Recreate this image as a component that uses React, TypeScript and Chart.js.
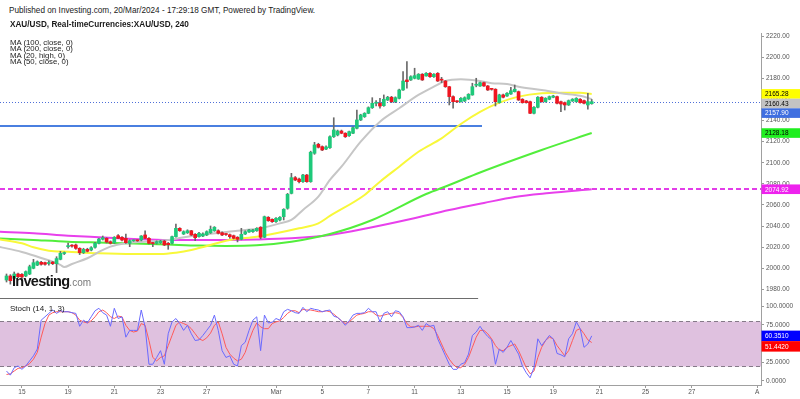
import React, { useEffect, useRef } from 'react';
import { Chart, registerables } from 'chart.js';

Chart.register(...registerables);

// ---------------- data (4h bars, index 0 = first visible candle) ----------------
const candleOpen = [
  1988.9, 1992.7, 1990.5, 1994.6, 1994.3, 1992.7, 1994.6, 2000.0, 2003.0, 2005.7,
  2005.4, 2004.5, 2005.9, 2004.4, 2008.5, 2014.0, 2020.5, 2021.5, 2022.1, 2018.9,
  2014.8, 2018.0, 2017.3, 2019.9, 2023.7, 2027.5, 2028.4, 2025.2, 2024.3, 2030.9,
  2029.4, 2028.4, 2023.7, 2026.0, 2026.2, 2026.8, 2031.6, 2028.4, 2023.9, 2023.7,
  2024.3, 2025.8, 2023.7, 2023.7, 2030.0, 2037.9, 2032.5, 2033.7, 2035.6, 2032.2,
  2030.0, 2030.6, 2031.6, 2033.7, 2035.6, 2035.6, 2033.7, 2032.4, 2031.8, 2030.9,
  2029.4, 2027.5, 2032.5, 2034.4, 2034.7, 2035.6, 2038.9, 2029.4, 2048.3, 2046.4,
  2044.2, 2045.8, 2048.9, 2056.9, 2071.0, 2085.9, 2084.6, 2082.1, 2088.4, 2082.1,
  2109.0, 2117.5, 2115.3, 2113.0, 2114.3, 2124.7, 2126.4, 2130.1, 2128.0, 2125.7,
  2128.0, 2132.7, 2140.6, 2143.7, 2146.9, 2152.2, 2156.4, 2156.4, 2154.1, 2159.5,
  2162.1, 2157.9, 2161.1, 2169.0, 2178.5, 2178.5, 2180.1, 2179.4, 2183.9, 2182.3,
  2184.8, 2181.6, 2184.8, 2178.6, 2177.5, 2172.1, 2162.7, 2158.0, 2157.9, 2158.6,
  2160.5, 2164.3, 2173.5, 2172.8, 2175.9, 2172.8, 2169.8, 2169.7, 2157.0, 2164.3,
  2163.3, 2165.2, 2167.4, 2167.4, 2160.2, 2158.6, 2157.9, 2146.9, 2152.6, 2162.1,
  2157.9, 2160.2, 2162.1, 2162.7, 2157.9, 2157.0, 2154.8, 2158.6, 2157.9, 2160.2,
  2158.9, 2154.8, 2156.0,
];
const candleHigh = [
  1994.6, 1994.0, 1996.5, 1995.5, 1995.0, 1997.5, 2003.0, 2008.5, 2007.0, 2006.5,
  2006.0, 2007.0, 2006.5, 2011.0, 2016.0, 2015.5, 2024.0, 2022.5, 2023.0, 2019.5,
  2019.0, 2019.0, 2020.5, 2024.5, 2028.5, 2030.6, 2029.0, 2026.0, 2030.0, 2032.0,
  2030.0, 2032.5, 2027.0, 2027.0, 2027.0, 2031.0, 2035.4, 2029.0, 2024.5, 2026.0,
  2026.5, 2026.5, 2024.5, 2030.5, 2042.0, 2038.5, 2035.5, 2036.5, 2036.0, 2032.8,
  2034.0, 2033.5, 2035.5, 2040.1, 2039.5, 2036.5, 2034.5, 2033.0, 2032.5, 2031.5,
  2030.0, 2037.9, 2035.5, 2037.0, 2037.0, 2038.5, 2039.5, 2049.5, 2049.0, 2047.0,
  2048.0, 2049.0, 2056.5, 2071.0, 2090.0, 2087.0, 2085.5, 2089.0, 2089.0, 2111.0,
  2119.4, 2118.5, 2116.0, 2116.0, 2125.5, 2142.7, 2131.0, 2131.0, 2128.5, 2130.0,
  2134.0, 2150.0, 2146.0, 2147.5, 2153.0, 2161.7, 2159.0, 2161.0, 2164.3, 2163.0,
  2163.0, 2162.5, 2169.8, 2186.4, 2195.8, 2182.5, 2189.6, 2184.5, 2184.5, 2185.5,
  2185.5, 2184.5, 2185.5, 2181.0, 2178.0, 2172.5, 2163.5, 2159.0, 2161.8, 2162.5,
  2165.5, 2175.4, 2180.1, 2176.5, 2176.5, 2173.3, 2170.5, 2170.2, 2165.0, 2165.0,
  2166.5, 2171.6, 2173.7, 2168.0, 2160.8, 2159.2, 2158.5, 2153.2, 2162.7, 2162.7,
  2161.7, 2163.3, 2164.0, 2163.3, 2158.5, 2157.6, 2159.5, 2160.8, 2161.7, 2160.8,
  2159.5, 2165.9, 2160.0,
];
const candleLow = [
  1987.0, 1985.0, 1988.5, 1991.0, 1990.5, 1992.0, 1994.0, 1999.5, 2002.5, 2003.0,
  2003.0, 2003.0, 2003.5, 1995.9, 2008.0, 2013.0, 2019.0, 2020.0, 2018.0, 2013.0,
  2014.0, 2015.5, 2016.5, 2019.0, 2023.0, 2026.8, 2024.0, 2023.0, 2023.5, 2028.0,
  2026.0, 2023.5, 2020.5, 2025.5, 2025.5, 2026.0, 2028.0, 2023.0, 2020.5, 2023.0,
  2023.5, 2021.5, 2018.0, 2023.0, 2029.5, 2035.0, 2032.0, 2033.0, 2031.0, 2026.2,
  2029.5, 2030.0, 2031.0, 2033.0, 2035.0, 2032.5, 2031.0, 2031.2, 2028.4, 2027.8,
  2025.0, 2027.0, 2032.0, 2034.0, 2034.0, 2035.0, 2028.0, 2029.0, 2044.5, 2043.5,
  2043.5, 2045.0, 2045.8, 2056.0, 2070.5, 2083.0, 2081.0, 2081.5, 2081.5, 2081.5,
  2108.0, 2114.0, 2111.5, 2112.5, 2113.5, 2124.0, 2125.5, 2127.5, 2124.0, 2125.0,
  2127.5, 2132.0, 2140.0, 2143.0, 2146.5, 2151.5, 2154.0, 2151.7, 2153.5, 2159.0,
  2157.0, 2157.0, 2160.5, 2168.5, 2170.6, 2178.0, 2179.5, 2179.0, 2178.0, 2182.0,
  2181.0, 2181.0, 2177.0, 2176.0, 2171.5, 2154.8, 2151.7, 2157.0, 2157.5, 2158.0,
  2160.0, 2164.0, 2172.0, 2172.3, 2172.3, 2168.5, 2168.8, 2153.8, 2156.5, 2161.5,
  2163.0, 2164.8, 2167.0, 2159.0, 2156.5, 2156.5, 2146.5, 2146.3, 2152.0, 2157.4,
  2157.4, 2159.7, 2161.6, 2155.9, 2148.4, 2150.0, 2154.3, 2158.1, 2157.4, 2156.5,
  2155.9, 2150.7, 2155.5,
];
const candleClose = [
  1992.7, 1988.3, 1994.6, 1992.0, 1991.8, 1996.8, 2001.5, 2005.3, 2006.2, 2003.8,
  2003.8, 2005.5, 2004.4, 2009.2, 2014.2, 2014.8, 2021.5, 2021.0, 2018.9, 2014.8,
  2018.0, 2016.1, 2019.5, 2023.7, 2027.8, 2029.0, 2024.9, 2023.7, 2029.4, 2028.4,
  2026.8, 2024.3, 2026.2, 2026.4, 2026.0, 2030.6, 2028.4, 2023.7, 2023.5, 2025.2,
  2025.8, 2022.1, 2022.4, 2030.0, 2037.9, 2035.6, 2034.7, 2035.6, 2031.6, 2029.0,
  2033.2, 2032.5, 2034.7, 2037.0, 2038.9, 2033.2, 2031.6, 2032.0, 2030.0, 2028.4,
  2027.5, 2032.2, 2034.7, 2036.3, 2036.3, 2037.9, 2029.4, 2048.9, 2045.1, 2044.2,
  2047.4, 2048.3, 2055.9, 2070.1, 2085.9, 2083.7, 2082.1, 2088.4, 2082.1, 2110.0,
  2116.9, 2114.7, 2112.1, 2115.0, 2124.7, 2131.1, 2130.1, 2128.0, 2124.7, 2129.5,
  2133.3, 2140.6, 2145.3, 2146.9, 2152.2, 2156.4, 2156.8, 2153.8, 2160.2, 2162.1,
  2157.9, 2161.7, 2169.0, 2177.5, 2176.9, 2181.6, 2182.6, 2183.9, 2178.5, 2184.8,
  2181.6, 2183.9, 2177.5, 2178.3, 2172.1, 2162.7, 2157.9, 2157.8, 2161.1, 2161.7,
  2164.9, 2172.1, 2173.9, 2175.9, 2172.8, 2169.0, 2169.6, 2157.9, 2164.3, 2162.1,
  2165.9, 2168.3, 2169.7, 2159.5, 2157.0, 2157.0, 2146.9, 2152.6, 2162.1, 2157.9,
  2161.1, 2162.7, 2163.3, 2156.4, 2155.7, 2154.8, 2158.9, 2160.2, 2161.1, 2157.0,
  2156.4, 2157.9, 2157.9,
];

// moving averages, read at sampled bar indices
const maFastIdx = [-2, 4, 9, 14, 15, 17, 21, 24, 27, 31, 36, 42, 47, 50, 60, 66, 71, 74, 77, 81, 84, 87, 92, 97, 102, 107, 111, 114, 118, 123, 126, 130, 133, 139, 144, 149, 152];
const maFastVal = [2020.5, 2015.5, 2009.8, 2003.2, 2001.2, 2004.1, 2009.5, 2015.5, 2020.5, 2023.7, 2025.2, 2026.8, 2030.0, 2031.6, 2035.6, 2037.9, 2042.6, 2045.8, 2055.3, 2067.9, 2083.7, 2096.3, 2120.0, 2139.0, 2151.7, 2164.3, 2172.1, 2177.5, 2179.1, 2177.5, 2175.4, 2174.7, 2172.1, 2169.0, 2165.9, 2163.6, 2160.43];
const maYellowIdx = [-2, 4, 7, 11, 16, 24, 33, 40, 44, 48, 50, 58, 65, 70, 76, 81, 84, 93, 97, 102, 107, 113, 118, 123, 128, 133, 139, 144, 149, 152];
const maYellowVal = [2027.5, 2023.7, 2019.9, 2016.7, 2015.7, 2014.2, 2013.5, 2013.5, 2014.8, 2017.3, 2019.2, 2026.8, 2030.0, 2033.2, 2037.9, 2042.6, 2049.6, 2069.5, 2082.1, 2096.3, 2110.5, 2123.2, 2136.8, 2148.2, 2157.0, 2162.7, 2165.9, 2166.4, 2166.4, 2165.28];
const maGreenIdx = [-2, 7, 16, 24, 33, 42, 50, 57, 65, 74, 84, 95, 109, 115, 123, 139, 152];
const maGreenVal = [2028.4, 2026.8, 2025.2, 2024.4, 2023.6, 2022.5, 2021.5, 2021.2, 2021.8, 2025.2, 2032.5, 2045.8, 2070.4, 2078.9, 2090.8, 2112.1, 2128.18];
const maMagentaIdx = [-2, 7, 16, 24, 33, 42, 50, 65, 74, 84, 94, 105, 115, 124, 132, 141, 152];
const maMagentaVal = [2034.7, 2033.2, 2030.9, 2029.4, 2027.8, 2026.8, 2026.8, 2027.3, 2028.4, 2031.6, 2038.2, 2046.7, 2055.2, 2061.9, 2067.6, 2071.3, 2074.92];

// stochastic (14, 1, 3)
const stochK = [
  13.2, 7.7, 17.7, 20, 15.5, 20, 26.8, 33.6, 42.7, 81.4, 85.9, 90.5, 95, 90.5, 94, 92.7, 92.7, 91.4, 90.5, 73.2,
  81.4, 77.7, 85.9, 94, 97.3, 91.4, 88.2, 73.2, 97.3, 83.6, 85.9, 58.6, 67.7, 67.7, 67.7, 95, 72.3, 22.3, 22.3, 31.4,
  40.5, 22.3, 63.2, 79.1, 83.6, 76.8, 67.7, 74.5, 63.2, 54.1, 55, 60.9, 67.7, 74.5, 88.2, 67.7, 40.5, 31.4, 33.6, 22.3,
  20, 47.3, 51.8, 67.7, 81.4, 85.9, 40.5, 88.2, 77.7, 78.6, 83.6, 81.4, 92.7, 95.9, 94, 91.4, 90.5,
  98.6, 92.7, 97.3, 95.9, 95, 92.7, 94, 95, 86.8, 85, 80.5, 74.5, 80.5, 88.2, 90.5, 90.5, 91.4, 97.3, 92.7, 92.7,
  79.1, 90.5, 92.7, 85.9, 94, 92.7, 85.9, 71.4, 71.4, 72.3, 74.5, 67.7, 76.8, 73.2, 74.5, 56.4, 45, 33.6, 22.3, 15.5,
  15.5, 22.3, 24.5, 35.9, 60.9, 65.5, 73.2, 65.5, 59.5, 55, 22.3, 42.7, 38.2, 45, 54.1, 45, 35.9, 20, 10.9, 4.1,
  17.7, 56.4, 47.3, 54.1, 60.9, 56.4, 36.8, 35, 32.3, 56.4, 63.2, 79.1, 70, 45, 49.5, 60.351,
];
const stochD = [
  8.6, 9.5, 13.2, 16.8, 17.7, 20, 23.2, 29.1, 38.2, 58.6, 76.8, 88.2, 91.4, 92.7, 92.7, 92.7, 92.7, 91.4, 88.2, 81.4,
  79.1, 77.7, 80.5, 85.9, 92.7, 95, 91.4, 85.9, 83.6, 86.8, 85.9, 74.5, 67.7, 65.5, 66.8, 76.8, 74.5, 54.1, 31.4, 26.8,
  31.4, 33.6, 47.3, 60.9, 74.5, 79.1, 76.8, 74.5, 70, 63.2, 56.4, 54.1, 57.7, 64.1, 74.5, 79.1, 63.2, 45, 35.9, 30.5,
  26.8, 29.1, 38.2, 54.1, 67.7, 77.7, 72.3, 70, 70, 76.8, 79.1, 80.5, 85, 90.5, 94, 94, 91.4,
  95.9, 95, 95, 94, 92.7, 92.7, 94, 92.7, 89.5, 85, 80.5, 76.8, 79.1, 83.6, 88.2, 89.5, 90.5, 92.7, 92.7, 88.2,
  86.8, 88.2, 89.5, 90.5, 91.4, 90.5, 85, 76.8, 72.3, 72.3, 73.2, 73.2, 73.2, 73.2, 70, 60.9, 49.5, 38.2, 29.1, 22.3,
  17.7, 17.7, 22.3, 31.4, 45, 58.6, 67.7, 67.7, 63.2, 56.4, 47.3, 41.4, 40.5, 45, 47.3, 49.5, 40.5, 29.1, 17.7, 9.5,
  13.2, 31.4, 45, 54.1, 58.6, 56.4, 47.3, 40.5, 33.6, 40.5, 54.1, 67.7, 70, 63.2, 55, 51.442,
];

// axes
const priceTicks = [1980, 2000, 2020, 2040, 2060, 2080, 2100, 2120, 2140, 2160, 2180, 2200, 2220];
const stochTicks = [0, 25, 75, 100];
const dateTickIdx = [4, 16, 28, 40, 52, 70, 82, 94, 106, 118, 130, 142, 154, 166, 178, 195];
const dateTickLabels = ['15', '19', '21', '23', '27', 'Mar', '5', '7', '11', '13', '15', '19', '21', '25', '27', 'A'];
const xRange = [-1.69, 195.97];
const priceRange = [1971.85, 2223.0];
const stochRange = [-5.5, 111.1];

// drawn levels
const supportLevel = 2134.9;
const supportEndIdx = 123.5;
const dashedLevel = 2074.92;
const lastPrice = 2157.9;
const stochBand = [20, 80];
const separatorEndIdx = 122.5;

// right-axis value tags
const priceTags = [
  { value: 2165.28, bg: '#ffff00', fg: '#000000' },
  { value: 2160.43, bg: '#c3c3c3', fg: '#000000' },
  { value: 2157.9, bg: '#3f6fe0', fg: '#ffffff' },
  { value: 2128.18, bg: '#1fee1f', fg: '#000000' },
  { value: 2074.92, bg: '#ee22ee', fg: '#ffffff' },
];
const stochTags = [
  { value: 60.351, bg: '#0000ff', fg: '#ffffff', digits: 4 },
  { value: 51.442, bg: '#ff0000', fg: '#ffffff', digits: 4 },
];

const FONT = '"Liberation Sans", Arial, sans-serif';
const AXIS_W = 39;

function drawTags(chart: any, tags: any[], boxH: number, digits: number) {
  const { ctx, chartArea: a, scales } = chart;
  const y = scales.y;
  const items = tags
    .map((t) => ({ ...t, py: y.getPixelForValue(t.value) }))
    .sort((p, q) => p.py - q.py);
  let prev = -Infinity;
  for (const it of items) {
    if (it.py < prev + boxH) it.py = prev + boxH;
    prev = it.py;
  }
  ctx.save();
  ctx.font = `6.5px ${FONT}`;
  ctx.textBaseline = 'middle';
  ctx.textAlign = 'left';
  for (const it of items) {
    ctx.fillStyle = it.bg;
    ctx.fillRect(a.right + 0.5, it.py - boxH / 2, chart.width - a.right, boxH);
    ctx.fillStyle = it.fg;
    ctx.fillText(it.value.toFixed(it.digits ?? digits), a.right + 4, it.py + 0.5);
  }
  ctx.restore();
}

const mainPlugin = {
  id: 'mainExtras',
  beforeDatasetsDraw(chart: any) {
    const { ctx, chartArea: a, scales } = chart;
    const x = scales.x;
    const y = scales.y;
    ctx.save();
    ctx.beginPath();
    ctx.rect(a.left, a.top, a.width, a.height);
    ctx.clip();
    // support line
    let py = y.getPixelForValue(supportLevel);
    ctx.strokeStyle = '#4a7fe0';
    ctx.lineWidth = 2;
    ctx.setLineDash([]);
    ctx.beginPath();
    ctx.moveTo(a.left, py);
    ctx.lineTo(x.getPixelForValue(supportEndIdx), py);
    ctx.stroke();
    // dashed level
    py = Math.round(y.getPixelForValue(dashedLevel));
    ctx.strokeStyle = '#e23de8';
    ctx.lineWidth = 2;
    ctx.setLineDash([5, 3]);
    ctx.beginPath();
    ctx.moveTo(a.left, py);
    ctx.lineTo(a.right, py);
    ctx.stroke();
    // last price dotted
    py = Math.round(y.getPixelForValue(lastPrice)) + 0.5;
    ctx.strokeStyle = '#4f6fd8';
    ctx.lineWidth = 1;
    ctx.setLineDash([1, 2]);
    ctx.beginPath();
    ctx.moveTo(a.left, py);
    ctx.lineTo(a.right, py);
    ctx.stroke();
    ctx.restore();
  },
  afterDraw(chart: any) {
    drawTags(chart, priceTags, 9.6, 2);
  },
};

const stochPlugin = {
  id: 'stochExtras',
  beforeDatasetsDraw(chart: any) {
    const { ctx, chartArea: a, scales } = chart;
    const x = scales.x;
    const y = scales.y;
    const yTop = Math.round(y.getPixelForValue(stochBand[1])) + 0.5;
    const yBot = Math.round(y.getPixelForValue(stochBand[0])) + 0.5;
    ctx.save();
    ctx.fillStyle = '#dfc1df';
    ctx.fillRect(a.left, yTop, a.width, yBot - yTop);
    ctx.strokeStyle = '#857a88';
    ctx.lineWidth = 1;
    ctx.setLineDash([4, 3]);
    ctx.beginPath();
    ctx.moveTo(a.left, yTop);
    ctx.lineTo(a.right, yTop);
    ctx.moveTo(a.left, yBot);
    ctx.lineTo(a.right, yBot);
    ctx.stroke();
    ctx.setLineDash([]);
    ctx.strokeStyle = '#6d6d6d';
    ctx.beginPath();
    ctx.moveTo(a.left, a.top + 0.5);
    ctx.lineTo(x.getPixelForValue(separatorEndIdx), a.top + 0.5);
    ctx.stroke();
    ctx.restore();
  },
  afterDraw(chart: any) {
    drawTags(chart, stochTags, 10.5, 4);
  },
};

function pts(idx: number[], vals: number[]) {
  return idx.map((v, k) => ({ x: v, y: vals[k] }));
}

function lineDs(data: any[], color: string, width: number, order: number) {
  return {
    type: 'line',
    data,
    borderColor: color,
    borderWidth: width,
    pointRadius: 0,
    cubicInterpolationMode: 'monotone',
    order,
  };
}

const tickFont = { family: FONT, size: 6.5 };

export default function App() {
  const mainRef = useRef<HTMLCanvasElement | null>(null);
  const stochRef = useRef<HTMLCanvasElement | null>(null);

  useEffect(() => {
    const bodies = candleClose.map((c, i) => ({ x: i, y: [candleOpen[i], c] }));
    const wicks = candleClose.map((c, i) => ({ x: i, y: [candleLow[i], candleHigh[i]] }));
    const bodyColors = candleClose.map((c, i) => (c >= candleOpen[i] ? '#1ec97a' : '#f01520'));

    const main = new Chart(mainRef.current as HTMLCanvasElement, {
      type: 'bar',
      data: {
        datasets: [
          {
            type: 'bar',
            data: bodies,
            backgroundColor: bodyColors,
            borderWidth: 0,
            barThickness: 3,
            minBarLength: 1,
            grouped: false,
            order: 0,
          } as any,
          {
            type: 'bar',
            data: wicks,
            backgroundColor: '#6a6a6a',
            borderWidth: 0,
            barThickness: 1,
            grouped: false,
            order: 1,
          } as any,
          lineDs(pts(maMagentaIdx, maMagentaVal), '#e840ec', 2, 5) as any,
          lineDs(pts(maGreenIdx, maGreenVal), '#52ee3c', 2, 4) as any,
          lineDs(pts(maYellowIdx, maYellowVal), '#f8f83a', 2, 3) as any,
          lineDs(pts(maFastIdx, maFastVal), '#c6c6c6', 2, 2) as any,
        ],
      },
      options: {
        responsive: false,
        animation: false,
        devicePixelRatio: 1,
        layout: { padding: 0 },
        plugins: { legend: { display: false }, tooltip: { enabled: false } },
        scales: {
          x: {
            type: 'linear',
            min: xRange[0],
            max: xRange[1],
            display: false,
            offset: false,
            bounds: 'data',
            grid: { offset: false },
          } as any,
          y: {
            type: 'linear',
            position: 'right',
            min: priceRange[0],
            max: priceRange[1],
            beginAtZero: false,
            afterBuildTicks: (s: any) => {
              s.ticks = priceTicks.map((v) => ({ value: v }));
            },
            afterFit: (s: any) => {
              s.width = AXIS_W;
              s.paddingTop = 0;
              s.paddingBottom = 0;
            },
            ticks: {
              callback: (v: any) => Number(v).toFixed(2),
              font: tickFont,
              color: '#555555',
              padding: 2,
              autoSkip: false,
            },
            grid: { drawOnChartArea: false, drawTicks: true, tickLength: 3, color: '#9a9a9a' },
            border: { display: true, color: '#a0a0a0' },
          } as any,
        },
      },
      plugins: [mainPlugin],
    } as any);

    const stoch = new Chart(stochRef.current as HTMLCanvasElement, {
      type: 'line',
      data: {
        datasets: [
          lineDs(stochD.map((v, i) => ({ x: i, y: v })), '#ff5a5a', 1, 1) as any,
          lineDs(stochK.map((v, i) => ({ x: i, y: v })), '#6a6aff', 1, 0) as any,
        ].map((d: any) => ({ ...d, cubicInterpolationMode: 'default', tension: 0 })),
      },
      options: {
        responsive: false,
        animation: false,
        devicePixelRatio: 1,
        layout: { padding: 0 },
        plugins: { legend: { display: false }, tooltip: { enabled: false } },
        scales: {
          x: {
            type: 'linear',
            position: 'bottom',
            min: xRange[0],
            max: xRange[1],
            offset: false,
            bounds: 'data',
            afterBuildTicks: (s: any) => {
              s.ticks = dateTickIdx.map((v) => ({ value: v }));
            },
            afterFit: (s: any) => {
              s.height = 14;
              s.paddingLeft = 0;
              s.paddingRight = 0;
            },
            ticks: {
              callback: (_v: any, i: number) => dateTickLabels[i],
              font: tickFont,
              color: '#555555',
              padding: 0,
              autoSkip: false,
              maxRotation: 0,
              minRotation: 0,
            },
            grid: { drawOnChartArea: false, drawTicks: true, tickLength: 3, color: '#9a9a9a' },
            border: { display: true, color: '#a0a0a0' },
          } as any,
          y: {
            type: 'linear',
            position: 'right',
            min: stochRange[0],
            max: stochRange[1],
            afterBuildTicks: (s: any) => {
              s.ticks = stochTicks.map((v) => ({ value: v }));
            },
            afterFit: (s: any) => {
              s.width = AXIS_W;
              s.paddingTop = 0;
              s.paddingBottom = 0;
            },
            ticks: {
              callback: (v: any) => Number(v).toFixed(4),
              font: tickFont,
              color: '#555555',
              padding: 2,
              autoSkip: false,
            },
            grid: { drawOnChartArea: false, drawTicks: true, tickLength: 3, color: '#9a9a9a' },
            border: { display: true, color: '#a0a0a0' },
          } as any,
        },
      },
      plugins: [stochPlugin],
    } as any);

    return () => {
      main.destroy();
      stoch.destroy();
    };
  }, []);

  const small: React.CSSProperties = {
    position: 'absolute',
    left: 10,
    whiteSpace: 'nowrap',
    fontFamily: FONT,
    color: '#1a1a1a',
  };

  return (
    <div
      style={{
        position: 'fixed',
        left: 0,
        top: 0,
        width: 800,
        height: 399,
        background: '#ffffff',
        overflow: 'hidden',
      }}
    >
      <canvas
        ref={mainRef}
        width={800}
        height={265}
        style={{ position: 'absolute', left: 0, top: 33, width: 800, height: 265 }}
      />
      <canvas
        ref={stochRef}
        width={800}
        height={101}
        style={{ position: 'absolute', left: 0, top: 298, width: 800, height: 101 }}
      />
      <div style={{ ...small, left: 9, top: 5, fontSize: 8.2, lineHeight: '11px' }}>
        Published on Investing.com, 20/Mar/2024 - 17:29:18 GMT, Powered by TradingView.
      </div>
      <div style={{ ...small, top: 19, fontSize: 8.2, lineHeight: '11px', fontWeight: 700 }}>
        XAU/USD, Real-timeCurrencies:XAU/USD, 240
      </div>
      <div style={{ ...small, top: 40, fontSize: 7.8, lineHeight: '6.3px' }}>
        <div>MA (100, close, 0)</div>
        <div>MA (200, close, 0)</div>
        <div>MA (20, high, 0)</div>
        <div>MA (50, close, 0)</div>
      </div>
      <div style={{ ...small, top: 303, fontSize: 8, lineHeight: '11px' }}>Stoch (14, 1, 3)</div>
      <div
        style={{
          ...small,
          left: 12,
          top: 273,
          fontSize: 14.5,
          lineHeight: '16px',
          fontWeight: 700,
          letterSpacing: '-0.7px',
          color: '#161616',
        }}
      >
        Investing
        <span style={{ fontWeight: 400, fontSize: 10, color: '#7a7a7a', letterSpacing: 0 }}>.com</span>
      </div>
    </div>
  );
}
